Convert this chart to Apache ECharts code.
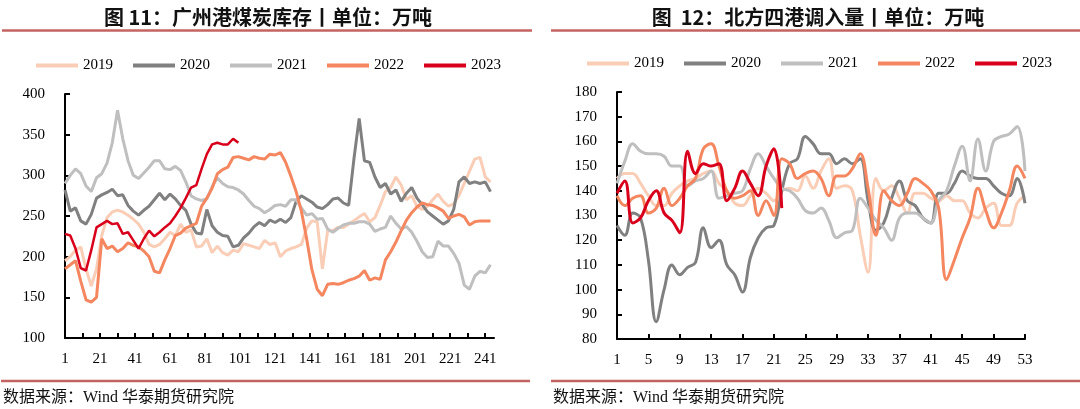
<!DOCTYPE html>
<html>
<head>
<meta charset="utf-8">
<title>港口煤炭</title>
<script src="https://cdn.jsdelivr.net/npm/echarts@6/dist/echarts.min.js"></script>
<style>
  html, body { margin: 0; padding: 0; background: #fff; }
  #chart { width: 1080px; height: 409px; }
</style>
</head>
<body>
<div id="chart"></div>
<script>
// 图11 广州港煤炭库存（日度，每3天取一个读数）
const years = ['2019', '2020', '2021', '2022', '2023']
const colors = ['#F9CDB6', '#808080', '#BFBFBF', '#F4875F', '#D9001B']

const stock2019 = [195, 200, 208, 212, 185, 164, 185, 226, 248, 255, 257, 255, 251, 246, 240, 230, 215, 212, 215, 222,
  230, 226, 240, 230, 233, 212, 213, 222, 205, 213, 205, 202, 208, 206, 216, 214, 212, 210, 220, 215,
  217, 200, 207, 210, 212, 215, 235, 244, 243, 185, 232, 232, 236, 236, 240, 244, 249, 253, 243, 248,
  263, 280, 285, 298, 288, 270, 275, 262, 258, 262, 270, 277, 268, 262, 265, 275, 290, 305, 320, 322,
  298, 292]
const stock2020 = [282, 256, 260, 244, 240, 252, 272, 276, 279, 283, 275, 276, 263, 256, 251, 257, 262, 270, 278, 270,
  277, 271, 263, 257, 240, 229, 228, 258, 238, 230, 226, 225, 212, 214, 223, 229, 237, 242, 238, 245,
  242, 246, 242, 248, 268, 275, 271, 267, 261, 259, 264, 271, 272, 266, 263, 320, 370, 318, 316, 298,
  285, 290, 277, 282, 268, 278, 285, 272, 264, 255, 250, 245, 240, 244, 258, 292, 298, 290, 292, 290,
  292, 280]
const stock2021 = [290, 300, 308, 302, 287, 280, 297, 302, 315, 340, 380, 345, 318, 300, 296, 303, 310, 318, 318, 308,
  307, 311, 306, 292, 275, 271, 269, 271, 286, 297, 290, 286, 285, 282, 277, 269, 262, 259, 254, 258,
  263, 264, 262, 270, 270, 260, 251, 253, 246, 247, 234, 230, 235, 239, 241, 241, 243, 243, 240, 231,
  234, 236, 250, 241, 234, 237, 230, 219, 206, 199, 200, 219, 213, 213, 204, 192, 165, 160, 176, 182,
  180, 190]
const stock2022 = [185, 190, 195, 170, 147, 144, 150, 222, 210, 213, 206, 210, 217, 214, 212, 207, 200, 182, 180, 196,
  210, 226, 229, 235, 238, 241, 262, 272, 284, 302, 307, 310, 322, 323, 321, 319, 323, 321, 320, 326,
  325, 328, 316, 299, 280, 256, 222, 184, 160, 152, 166, 167, 166, 168, 171, 173, 176, 183, 171, 174,
  172, 196, 206, 218, 232, 245, 254, 261, 266, 264, 263, 260, 256, 247, 250, 252, 249, 239, 243, 244,
  244, 244]
const stock2023 = [228, 226, 210, 186, 183, 208, 236, 240, 244, 240, 241, 228, 230, 220, 210, 222, 232, 225, 230, 236,
  241, 250, 260, 272, 285, 288, 308, 326, 338, 340, 338, 338, 345, 340]

// 图12 北方四港调入量（周度）
const in2019 = [145, 147, 147, 143, 138, 134, 134, 139, 142, 144, 145, 147, 148, 143, 140, 135, 134, 138, 141, 139,
  136, 140, 141, 140, 146, 141, 148, 153, 141, 142, 140, 122, 107, 145, 140, 142, 137, 131, 139, 139,
  137, 136, 138, 136, 136, 131, 129, 133, 135, 126, 126, 135, 138]
const in2020 = [126, 122, 131, 129, 112, 87, 100, 110, 106, 109, 111, 125, 117, 120, 110, 106, 99, 113, 121, 125,
  126, 140, 151, 153, 162, 159, 155, 155, 151, 153, 151, 153, 136, 124, 127, 137, 144, 136, 134, 129,
  127, 139, 139, 143, 148, 146, 145, 145, 142, 139, 138, 145, 135]
const in2021 = [143, 152, 159, 156, 155, 155, 154, 150, 150, 142, 144, 145, 148, 137, 138, 139, 140, 149, 155, 150,
  145, 141, 140, 137, 132, 131, 133, 128, 121, 123, 124, 137, 133, 128, 125, 120, 129, 131, 131, 129,
  127, 136, 140, 150, 158, 144, 161, 148, 160, 162, 163, 166, 148]
const in2022 = [138, 134, 137, 138, 131, 133, 141, 134, 137, 142, 145, 157, 159, 150, 140, 137, 138, 140, 130, 136,
  130, 153, 151, 145, 147, 148, 145, 138, 146, 146, 149, 155, 141, 122, 140, 136, 134, 139, 145, 143,
  140, 133, 104, 112, 121, 129, 141, 132, 125, 131, 140, 150, 145]
const in2023 = [139, 144, 127, 129, 136, 140, 131, 128, 123, 156, 147, 151, 150, 151, 136, 141, 148, 143, 138, 150,
  157, 133]

const dayCount = 246
const dayStep = 3
const weekCount = 53

const days = []
for (let i = 1; i <= dayCount; i++) days.push(String(i))
const weeks = []
for (let i = 1; i <= weekCount; i++) weeks.push(String(i))

// 日度读数对应到第几天
function byDay (values) {
  return values.map((v, i) => [String(1 + i * dayStep), v])
}

const serif = 'Liberation Serif'
const black = '#000'
const lineRed = '#C46462'

function xAxisOf (grid, data, tickGap, labelGap) {
  return {
    gridIndex: grid,
    type: 'category',
    data: data,
    boundaryGap: false,
    axisLine: { lineStyle: { color: black, width: 2 } },
    axisTick: { inside: true, interval: tickGap, length: 5, lineStyle: { color: black, width: 2 } },
    axisLabel: { interval: labelGap, color: black, fontFamily: serif, fontSize: 15, margin: 14 },
    splitLine: { show: false }
  }
}

function yAxisOf (grid, min, max, step) {
  return {
    gridIndex: grid,
    type: 'value',
    min: min,
    max: max,
    interval: step,
    axisLine: { show: true, lineStyle: { color: black, width: 2 } },
    axisTick: { show: true, inside: true, length: 5, lineStyle: { color: black, width: 2 } },
    axisLabel: { color: black, fontFamily: serif, fontSize: 15, margin: 20 },
    splitLine: { show: false }
  }
}

function legendOf (left, top) {
  return {
    data: years,
    left: left,
    top: top,
    icon: 'rect',
    itemWidth: 42,
    itemHeight: 4,
    itemGap: 20,
    selectedMode: false,
    textStyle: { color: black, fontFamily: serif, fontSize: 15 }
  }
}

const stockSets = [stock2019, stock2020, stock2021, stock2022, stock2023]
const inSets = [in2019, in2020, in2021, in2022, in2023]

const series = []
stockSets.forEach((vals, i) => {
  series.push({
    name: years[i],
    type: 'line',
    xAxisIndex: 0,
    yAxisIndex: 0,
    data: byDay(vals),
    symbol: 'none',
    itemStyle: { color: colors[i] },
    lineStyle: { color: colors[i], width: i === 4 ? 2.5 : 3 }
  })
})
inSets.forEach((vals, i) => {
  series.push({
    name: years[i],
    type: 'line',
    xAxisIndex: 1,
    yAxisIndex: 1,
    data: vals,
    smooth: 0.4,
    symbol: 'none',
    itemStyle: { color: colors[i] },
    lineStyle: { color: colors[i], width: 3 }
  })
})

const titleFont = 'bold 20px "Noto Sans CJK SC", sans-serif'
const sourceFont = '16px "Liberation Serif", "Noto Sans CJK SC", serif'

const option = {
  animation: false,
  color: colors,
  grid: [
    { left: 65, top: 94, width: 429, height: 244 },
    { left: 617, top: 92, width: 408, height: 247 }
  ],
  xAxis: [xAxisOf(0, days, 9, 19), xAxisOf(1, weeks, 3, 3)],
  yAxis: [yAxisOf(0, 100, 400, 50), yAxisOf(1, 80, 180, 10)],
  legend: [legendOf(31, 53), legendOf(582, 51)],
  graphic: [
    { type: 'text', x: 268, y: 17, style: { text: '图 11：广州港煤炭库存丨单位：万吨', font: titleFont, fill: '#111', align: 'center', verticalAlign: 'middle' } },
    { type: 'text', x: 818, y: 17, style: { text: '图  12：北方四港调入量丨单位：万吨', font: titleFont, fill: '#111', align: 'center', verticalAlign: 'middle' } },
    { type: 'line', shape: { x1: 2, y1: 30.5, x2: 532, y2: 30.5 }, style: { stroke: lineRed, lineWidth: 2.5 } },
    { type: 'line', shape: { x1: 551, y1: 30.5, x2: 1080, y2: 30.5 }, style: { stroke: lineRed, lineWidth: 2.5 } },
    { type: 'line', shape: { x1: 1, y1: 381, x2: 530, y2: 381 }, style: { stroke: lineRed, lineWidth: 2.5 } },
    { type: 'line', shape: { x1: 551, y1: 381, x2: 1080, y2: 381 }, style: { stroke: lineRed, lineWidth: 2.5 } },
    { type: 'text', x: 3, y: 398, style: { text: '数据来源：Wind 华泰期货研究院', font: sourceFont, fill: '#111', verticalAlign: 'middle' } },
    { type: 'text', x: 553, y: 398, style: { text: '数据来源：Wind 华泰期货研究院', font: sourceFont, fill: '#111', verticalAlign: 'middle' } }
  ],
  series: series
}

const chart = echarts.init(document.getElementById('chart'))
chart.setOption(option)
window.addEventListener('resize', function () {
  chart.resize()
})
</script>
</body>
</html>
